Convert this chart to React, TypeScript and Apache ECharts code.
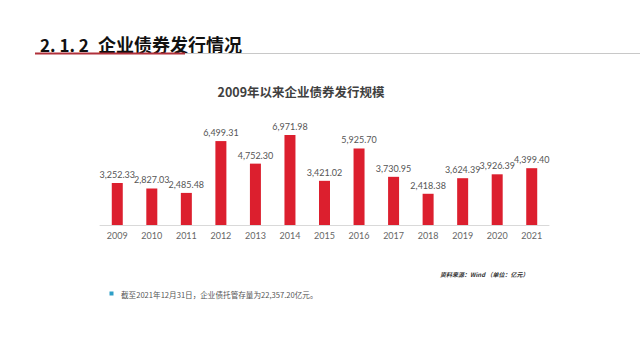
import React, { useEffect, useRef } from "react";
import * as echarts from "echarts";

const years = ["2009", "2010", "2011", "2012", "2013", "2014", "2015", "2016", "2017", "2018", "2019", "2020", "2021"];
const issuance = [3252.33, 2827.03, 2485.48, 6499.31, 4752.3, 6971.98, 3421.02, 5925.7, 3730.95, 2418.38, 3624.39, 3926.39, 4399.4];

const headerNumber = "2. 1. 2";
const headerText = "企业债券发行情况";
const chartTitle = "2009年以来企业债券发行规模";
const sourceText = "资料来源：Wind （单位：亿元）";
const noteText = "截至2021年12月31日，企业债托管存量为22,357.20亿元。";

const fmt = (v: number) =>
  v.toLocaleString("en-US", { minimumFractionDigits: 2, maximumFractionDigits: 2 });

export default function App() {
  const ref = useRef<HTMLDivElement>(null);
  useEffect(() => {
    if (!ref.current) return;
    const chart = echarts.init(ref.current, undefined, { renderer: "svg" });
    const cjk = "'Noto Sans CJK SC', 'Noto Sans', sans-serif";
    chart.setOption({
      animation: false,
      backgroundColor: "#ffffff",
      grid: { left: 100, right: 91, top: 121.7, height: 103.3 },
      xAxis: {
        type: "category",
        data: years,
        axisLine: { lineStyle: { color: "#d9d9d9", width: 1 } },
        axisTick: { show: false },
        axisLabel: { color: "#666666", fontSize: 9, fontFamily: "Lato, 'Noto Sans', sans-serif", margin: 6 },
      },
      yAxis: {
        type: "value",
        min: 0,
        max: 8000,
        show: false,
        splitLine: { show: false },
      },
      series: [
        {
          type: "bar",
          data: issuance,
          barWidth: 11,
          itemStyle: { color: "#DC1F2E" },
          label: {
            show: true,
            position: "top",
            distance: 4,
            color: "#555555",
            fontSize: 9,
            fontFamily: "Lato, 'Noto Sans', sans-serif",
            formatter: (p: any) => fmt(p.value),
          },
        },
      ],
      graphic: [
        {
          type: "text",
          x: 40,
          y: 44,
          style: {
            text: headerNumber,
            fontFamily: cjk,
            fontSize: 17,
            fontWeight: "bold",
            fill: "#111111",
            verticalAlign: "middle",
          },
        },
        {
          type: "text",
          x: 98,
          y: 44,
          style: {
            text: headerText,
            fontFamily: cjk,
            fontSize: 18,
            fontWeight: "bold",
            fill: "#111111",
            verticalAlign: "middle",
          },
        },
        {
          type: "line",
          shape: { x1: 185, y1: 53.5, x2: 640, y2: 53.5 },
          style: { stroke: "#c8c8c8", lineWidth: 1 },
        },
        {
          type: "line",
          shape: { x1: 35, y1: 53.5, x2: 185, y2: 53.5 },
          style: { stroke: "#b0303a", lineWidth: 2 },
        },
        {
          type: "text",
          x: 301,
          y: 91,
          style: {
            text: chartTitle,
            fontFamily: cjk,
            fontSize: 12.5,
            fontWeight: "bold",
            fill: "#404040",
            align: "center",
            verticalAlign: "middle",
          },
        },
        {
          type: "text",
          x: 440,
          y: 274,
          style: {
            text: sourceText,
            fontFamily: cjk,
            fontSize: 6,
            fontStyle: "italic",
            fontWeight: "bold",
            fill: "#333333",
            verticalAlign: "middle",
          },
        },
        {
          type: "rect",
          shape: { x: 109.5, y: 291.5, width: 4, height: 4 },
          style: { fill: "#2E9FC7" },
        },
        {
          type: "text",
          x: 121,
          y: 294,
          style: {
            text: noteText,
            fontFamily: cjk,
            fontSize: 7.6,
            fill: "#555555",
            verticalAlign: "middle",
          },
        },
      ],
    });
    return () => chart.dispose();
  }, []);
  return (
    <div
      ref={ref}
      style={{ position: "fixed", left: 0, top: 0, width: 640, height: 360, background: "#fff" }}
    />
  );
}
